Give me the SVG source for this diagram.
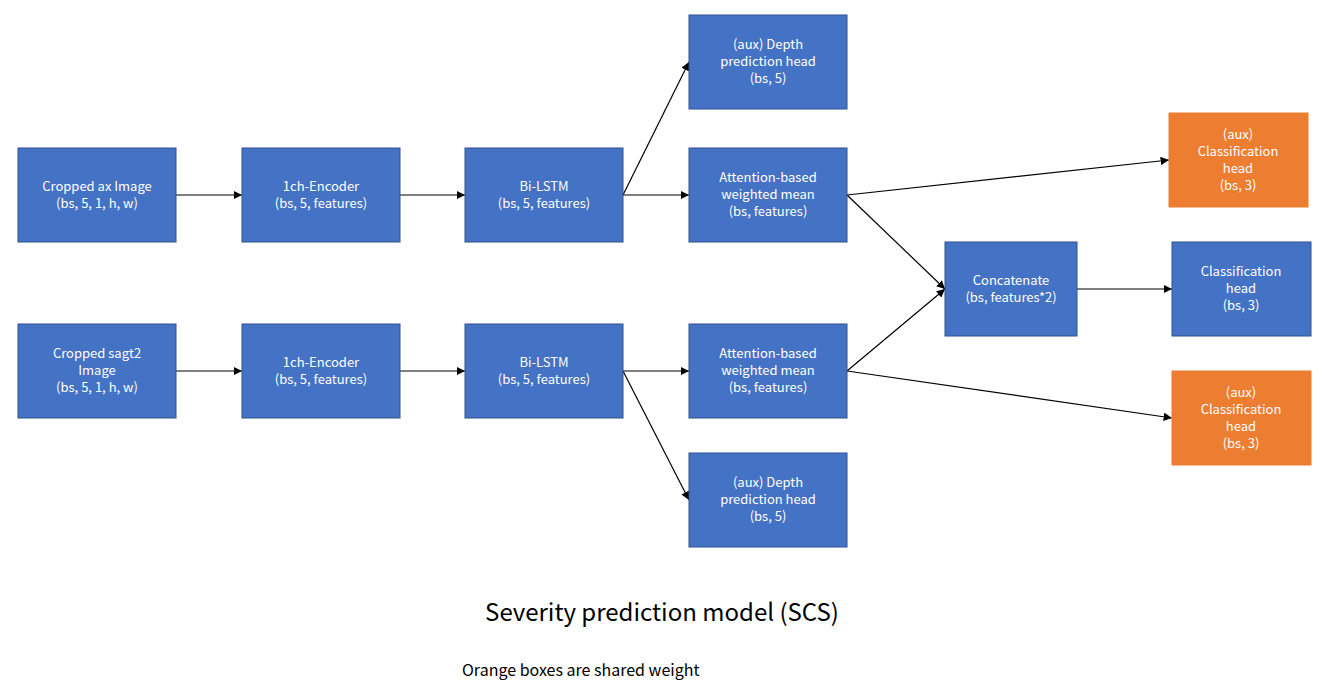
<svg xmlns="http://www.w3.org/2000/svg" width="1322" height="692" viewBox="0 0 1322 692">
<style>
.b{fill:#4472c4;stroke:#2f528f;stroke-width:1}
.o{fill:#ed7d31;stroke:#ed7d31;stroke-width:1}
.t{font-family:"Noto Sans CJK JP","Noto Sans",sans-serif;font-size:13px;fill:#fff;text-anchor:middle}
.c line{stroke:#000;stroke-width:1.2;marker-end:url(#a)}
</style>
<defs><marker id="a" viewBox="0 0 10 10" refX="10" refY="5" markerWidth="7" markerHeight="7" orient="auto"><path d="M0,0L10,5L0,10z" fill="#000"/></marker></defs>
<rect width="1322" height="692" fill="#fff"/>
<g class="c">
<line x1="176" y1="195" x2="242" y2="195"/>
<line x1="400" y1="195" x2="465" y2="195"/>
<line x1="623" y1="195" x2="689" y2="195"/>
<line x1="623" y1="195" x2="689" y2="62"/>
<line x1="847" y1="195" x2="1169" y2="160"/>
<line x1="847" y1="195" x2="945" y2="289"/>
<line x1="176" y1="371" x2="242" y2="371"/>
<line x1="400" y1="371" x2="465" y2="371"/>
<line x1="623" y1="371" x2="689" y2="371"/>
<line x1="623" y1="371" x2="689" y2="500"/>
<line x1="847" y1="371" x2="945" y2="289"/>
<line x1="847" y1="371" x2="1172" y2="418"/>
<line x1="1077" y1="289" x2="1172" y2="289"/>
</g>
<g id="ax"><rect class="b" x="18" y="148" width="158" height="94"/><text class="t" x="97" y="191">Cropped ax Image</text><text class="t" x="97" y="208">(bs, 5, 1, h, w)</text></g>
<g id="enc1"><rect class="b" x="242" y="148" width="158" height="94"/><text class="t" x="321" y="191">1ch-Encoder</text><text class="t" x="321" y="208">(bs, 5, features)</text></g>
<g id="lstm1"><rect class="b" x="465" y="148" width="158" height="94"/><text class="t" x="544" y="191">Bi-LSTM</text><text class="t" x="544" y="208">(bs, 5, features)</text></g>
<g id="att1"><rect class="b" x="689" y="148" width="158" height="94"/><text class="t" x="768" y="182">Attention-based</text><text class="t" x="768" y="199">weighted mean</text><text class="t" x="768" y="216">(bs, features)</text></g>
<g id="depth1"><rect class="b" x="689" y="15" width="158" height="94"/><text class="t" x="768" y="49">(aux) Depth</text><text class="t" x="768" y="66">prediction head</text><text class="t" x="768" y="83">(bs, 5)</text></g>
<g id="aux1"><rect class="o" x="1169" y="113" width="139" height="94"/><text class="t" x="1238" y="139">(aux)</text><text class="t" x="1238" y="156">Classification</text><text class="t" x="1238" y="173">head</text><text class="t" x="1238" y="190">(bs, 3)</text></g>
<g id="concat"><rect class="b" x="945" y="242" width="132" height="94"/><text class="t" x="1011" y="285">Concatenate</text><text class="t" x="1011" y="302">(bs, features*2)</text></g>
<g id="cls"><rect class="b" x="1172" y="242" width="139" height="94"/><text class="t" x="1241" y="276">Classification</text><text class="t" x="1241" y="293">head</text><text class="t" x="1241" y="310">(bs, 3)</text></g>
<g id="sag"><rect class="b" x="18" y="324" width="158" height="94"/><text class="t" x="97" y="358">Cropped sagt2</text><text class="t" x="97" y="375">Image</text><text class="t" x="97" y="392">(bs, 5, 1, h, w)</text></g>
<g id="enc2"><rect class="b" x="242" y="324" width="158" height="94"/><text class="t" x="321" y="367">1ch-Encoder</text><text class="t" x="321" y="384">(bs, 5, features)</text></g>
<g id="lstm2"><rect class="b" x="465" y="324" width="158" height="94"/><text class="t" x="544" y="367">Bi-LSTM</text><text class="t" x="544" y="384">(bs, 5, features)</text></g>
<g id="att2"><rect class="b" x="689" y="324" width="158" height="94"/><text class="t" x="768" y="358">Attention-based</text><text class="t" x="768" y="375">weighted mean</text><text class="t" x="768" y="392">(bs, features)</text></g>
<g id="depth2"><rect class="b" x="689" y="453" width="158" height="94"/><text class="t" x="768" y="487">(aux) Depth</text><text class="t" x="768" y="504">prediction head</text><text class="t" x="768" y="521">(bs, 5)</text></g>
<g id="aux2"><rect class="o" x="1172" y="371" width="139" height="94"/><text class="t" x="1241" y="397">(aux)</text><text class="t" x="1241" y="414">Classification</text><text class="t" x="1241" y="431">head</text><text class="t" x="1241" y="448">(bs, 3)</text></g>
<text x="662" y="621" font-family="'Noto Sans CJK JP','Noto Sans',sans-serif" font-size="24" text-anchor="middle" fill="#000">Severity prediction model (SCS)</text>
<text x="462" y="676" font-family="'Noto Sans CJK JP','Noto Sans',sans-serif" font-size="16" fill="#000">Orange boxes are shared weight</text>
</svg>
